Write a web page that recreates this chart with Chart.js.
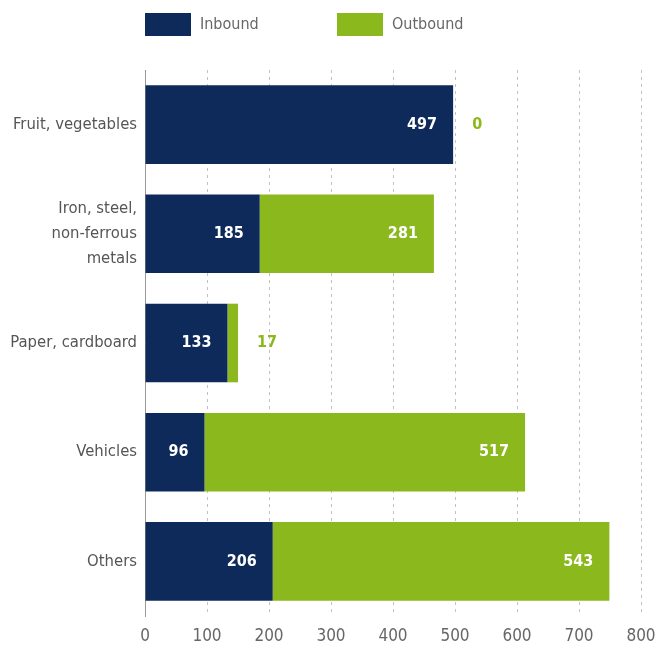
<!DOCTYPE html>
<html>
<head>
<meta charset="utf-8">
<script src="https://cdn.jsdelivr.net/npm/chart.js@4/dist/chart.umd.min.js"></script>
<style>
  html, body { margin: 0; padding: 0; background: #fff; }
  #wrap { width: 657px; height: 653px; position: relative; }
</style>
</head>
<body>
<div id="wrap"><canvas id="flowChart"></canvas></div>
<script>
// ================== CARGO FLOWS ==================

const categories = [
  'Fruit, vegetables',
  ['Iron, steel,', 'non-ferrous', 'metals'],
  'Paper, cardboard',
  'Vehicles',
  'Others'
];
const inbound = [497, 185, 133, 96, 206];
const outbound = [0, 281, 17, 517, 543];
const xTicks = [0, 100, 200, 300, 400, 500, 600, 700, 800];

const NAVY = '#0d2a5b';
const GREEN = '#8bb81d';
const FONT = "'Liberation Sans Narrow', 'DejaVu Sans Condensed', sans-serif";

// Legend drawn by hand so it can sit left-aligned with the plot area
const topLegend = {
  id: 'topLegend',
  afterDraw(chart) {
    const ctx = chart.ctx;
    const starts = [145, 337];
    ctx.save();
    ctx.font = '16px ' + FONT;
    ctx.textBaseline = 'middle';
    chart.data.datasets.forEach((ds, i) => {
      const x = starts[i];
      ctx.fillStyle = ds.backgroundColor;
      ctx.fillRect(x, 13, 46, 23);
      ctx.fillStyle = '#666';
      ctx.textAlign = 'left';
      ctx.fillText(ds.label, x + 55, 25);
    });
    ctx.restore();
  }
};

// Value labels: white at the end of a segment, green beside the bar when too small
const valueLabels = {
  id: 'valueLabels',
  afterDatasetsDraw(chart) {
    const ctx = chart.ctx;
    ctx.save();
    ctx.font = 'bold 16px ' + FONT;
    ctx.textBaseline = 'middle';
    chart.data.datasets.forEach((ds, di) => {
      const meta = chart.getDatasetMeta(di);
      meta.data.forEach((bar, i) => {
        const v = ds.data[i];
        const txt = String(v);
        const w = ctx.measureText(txt).width;
        const segW = Math.abs(bar.x - bar.base);
        if (segW > w + 24) {
          ctx.fillStyle = '#fff';
          ctx.textAlign = 'right';
          ctx.fillText(txt, bar.x - 16, bar.y);
        } else {
          // place after the end of the whole stack
          let end = bar.x;
          chart.data.datasets.forEach((_, k) => {
            const el = chart.getDatasetMeta(k).data[i];
            end = Math.max(end, el.x);
          });
          ctx.fillStyle = ds.backgroundColor;
          ctx.textAlign = 'left';
          ctx.fillText(txt, end + 19, bar.y);
        }
      });
    });
    ctx.restore();
  }
};

const ctx = document.getElementById('flowChart').getContext('2d');

new Chart(ctx, {
  type: 'bar',
  data: {
    labels: categories,
    datasets: [
      { label: 'Inbound', data: inbound, backgroundColor: NAVY },
      { label: 'Outbound', data: outbound, backgroundColor: GREEN }
    ]
  },
  options: {
    indexAxis: 'y',
    responsive: true,
    maintainAspectRatio: false,
    animation: false,
    barPercentage: 0.72,
    categoryPercentage: 1,
    layout: { padding: { top: 70, right: 16, bottom: 0, left: 0 } },
    plugins: {
      legend: { display: false },
      tooltip: { enabled: false }
    },
    scales: {
      x: {
        stacked: true,
        min: 0,
        max: 800,
        afterBuildTicks: scale => { scale.ticks = xTicks.map(v => ({ value: v })); },
        afterFit: scale => {
          scale.height = 37;
          scale.paddingLeft = 0;
          scale.paddingRight = 0;
        },
        grid: {
          drawTicks: false,
          color: ctx => ctx.tick && ctx.tick.value === 0 ? 'rgba(0,0,0,0)' : '#c2c2c2',
          lineWidth: 1
        },
        border: { display: false, dash: [3, 4] },
        ticks: {
          padding: 10,
          color: '#666',
          font: { family: FONT, size: 17 }
        }
      },
      y: {
        stacked: true,
        afterFit: scale => { scale.width = 145; },
        border: { display: true, color: '#999', width: 1 },
        grid: { display: false },
        ticks: {
          padding: 0,
          color: '#555',
          font: { family: FONT, size: 16.5, lineHeight: 1.5 }
        }
      }
    }
  },
  plugins: [topLegend, valueLabels]
});
</script>
</body>
</html>
